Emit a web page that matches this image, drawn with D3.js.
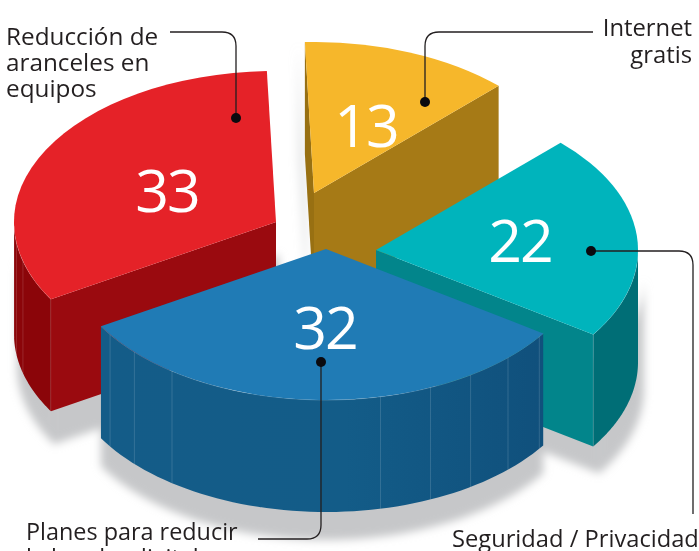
<!DOCTYPE html>
<html lang="en">
<head>
  <meta charset="UTF-8">
  <title>Chart</title>
  <style>
    html, body { margin: 0; padding: 0; background: #fff; overflow: hidden; }
    svg { display: block; }
  </style>
</head>
<body>

  <script src="https://d3js.org/d3.v7.min.js"></script>
  <script>
    const width = 699;
    const height = 551;

    const categories = ['Internet gratis', 'Seguridad / Privacidad', 'Planes para reducir la brecha digital', 'Reducción de aranceles en equipos'];
    const values = [13, 22, 32, 33];

    // colours per slice: top face, cut wall, rim wall
    const topColors = ['#f6b72b', '#00b4bc', '#207bb5', '#e52228'];
    const cutColors = ['#a67a16', '#02858b', '#125c88', '#9a0a0f'];
    const rimColors = ['#a67a16', '#006e76', 'url(#blueRim)', '#8b0509'];

    // where each slice's tip sits once pulled apart
    const tips = [[314, 193], [376, 250], [326, 249], [276, 222]];
    const shadowShift = [[-7, 2], [6, 27], [0, 28], [3, 33]];

    const rx = 262;
    const ry = 151;
    const depth = 112;
    const startAngle = -2 * Math.PI / 180;

    const rad = d => d * Math.PI / 180;

    const pie = d3.pie()
      .sort(null)
      .startAngle(startAngle)
      .endAngle(startAngle + 2 * Math.PI);
    const slices = pie(values);

    const arc = d3.arc().innerRadius(0).outerRadius(rx);
    const line = d3.line();

    const svg = d3.select('body')
      .append('svg')
      .attr('width', width)
      .attr('height', height)
      .style('font-family', '"Open Sans", sans-serif');

    const defs = svg.append('defs');
    defs.append('filter')
      .attr('id', 'blur')
      .attr('x', '-20%').attr('y', '-20%').attr('width', '140%').attr('height', '140%')
      .append('feGaussianBlur')
      .attr('stdDeviation', 4.5);

    const grad = defs.append('linearGradient')
      .attr('id', 'blueRim')
      .attr('gradientUnits', 'userSpaceOnUse')
      .attr('x1', 102).attr('x2', 545).attr('y1', 0).attr('y2', 0);
    grad.append('stop').attr('offset', '0%').attr('stop-color', '#145c88');
    grad.append('stop').attr('offset', '55%').attr('stop-color', '#135c88');
    grad.append('stop').attr('offset', '100%').attr('stop-color', '#10507c');

    // point on a slice's rim, angle clockwise from the top
    const rimPoint = (i, a, drop = 0) => [
      tips[i][0] + rx * Math.sin(a),
      tips[i][1] - ry * Math.cos(a) + drop,
    ];

    const rimSteps = (a0, a1) => d3.range(0, 61).map(k => a0 + (a1 - a0) * k / 60);

    const rimWall = (i, a0, a1) => {
      const angles = rimSteps(a0, a1);
      return line([
        ...angles.map(a => rimPoint(i, a)),
        ...angles.slice().reverse().map(a => rimPoint(i, a, depth)),
      ]) + 'Z';
    };

    const cutWall = (i, a) => line([
      tips[i],
      rimPoint(i, a),
      rimPoint(i, a, depth),
      [tips[i][0], tips[i][1] + depth],
    ]) + 'Z';

    const visibleRim = d => [Math.max(d.startAngle, Math.PI / 2), Math.min(d.endAngle, 3 * Math.PI / 2)];

    // ground shadows, under everything
    const shadows = svg.append('g').attr('filter', 'url(#blur)');
    slices.forEach((d, i) => {
      const [a0, a1] = visibleRim(d);
      const g = shadows.append('g')
        .attr('transform', `translate(${shadowShift[i]})`)
        .attr('fill', '#c6c7c9')
        .attr('opacity', i === 0 ? 0.45 : 1);
      if (i === 0) {
        g.append('path').attr('d', cutWall(i, d.startAngle));
      } else {
        g.append('path').attr('d', rimWall(i, a0, a1));
        if (Math.sin(d.startAngle) < 0) g.append('path').attr('d', cutWall(i, d.startAngle));
        if (Math.sin(d.endAngle) > 0) g.append('path').attr('d', cutWall(i, d.endAngle));
      }
    });

    // drawn back to front: yellow, red, teal, blue
    const order = [0, 3, 1, 2];
    order.forEach(i => {
      const d = slices[i];
      const g = svg.append('g');

      if (Math.sin(d.startAngle) < 0) {
        g.append('path')
          .attr('d', cutWall(i, d.startAngle))
          .attr('fill', i === 0 ? '#987012' : cutColors[i]);
      }
      if (Math.sin(d.endAngle) > 0) {
        g.append('path')
          .attr('d', cutWall(i, d.endAngle))
          .attr('fill', cutColors[i]);
      }

      const [a0, a1] = visibleRim(d);
      if (a1 > a0) {
        g.append('path')
          .attr('d', rimWall(i, a0, a1))
          .attr('fill', rimColors[i]);
        g.append('path')
          .attr('d', line(rimSteps(a0, a1).map(a => rimPoint(i, a))))
          .attr('fill', 'none')
          .attr('stroke', '#fff')
          .attr('stroke-opacity', 0.35)
          .attr('stroke-width', 0.6);
      }

      g.append('path')
        .attr('d', arc(d))
        .attr('transform', `translate(${tips[i]}) scale(1, ${ry / rx})`)
        .attr('fill', topColors[i]);
    });

    // thin seams on the rim walls, as degrees round the slice
    const seamAngles = [[2, [235.5, 227, 216, 168, 156.5, 146.5, 136, 125.5]], [3, [268.5, 262, 255, 239.3]], [1, [124]]];
    seamAngles.forEach(([i, angles]) => {
      svg.append('g')
        .selectAll('path')
        .data(angles)
        .join('path')
        .attr('d', a => line([rimPoint(i, rad(a)), rimPoint(i, rad(a), depth)]))
        .attr('stroke', '#fff')
        .attr('stroke-opacity', 0.18)
        .attr('stroke-width', 0.8);
    });

    // numbers
    const numberPos = [[367, 147], [521, 262], [326, 349], [168, 212]];
    svg.append('g')
      .selectAll('text')
      .data(values)
      .join('text')
      .attr('x', (d, i) => numberPos[i][0])
      .attr('y', (d, i) => numberPos[i][1])
      .attr('text-anchor', 'middle')
      .attr('fill', '#fff')
      .attr('font-size', 59)
      .attr('letter-spacing', -2)
      .attr('dx', -1)
      .text(d => d);

    // leaders
    const leaders = [
      'M593,32H439Q425,32 425,46V102',
      'M591,251H679Q693,251 693,265V514',
      'M258,539H307Q321,539 321,525V362',
      'M170,32H222Q236,32 236,46V118',
    ];
    const dots = [[425, 102], [591, 251], [321, 362], [236, 118]];

    svg.append('g')
      .selectAll('path')
      .data(leaders)
      .join('path')
      .attr('d', d => d)
      .attr('fill', 'none')
      .attr('stroke', '#231f20')
      .attr('stroke-width', 1.3);

    svg.append('g')
      .selectAll('circle')
      .data(dots)
      .join('circle')
      .attr('cx', d => d[0])
      .attr('cy', d => d[1])
      .attr('r', 5)
      .attr('fill', '#0a0a0f');

    // labels
    const labels = [
      { lines: ['Internet', 'gratis'], x: 692, y: [36, 63], anchor: 'end', size: 23.8 },
      { lines: ['Seguridad / Privacidad'], x: 452, y: [547], anchor: 'start', size: 23.7 },
      { lines: ['Planes para reducir', 'la brecha digital'], x: 26, y: [540, 566], anchor: 'start', size: 23.4 },
      { lines: ['Reducción de', 'aranceles en', 'equipos'], x: 6, y: [45, 71, 97], anchor: 'start', size: 24.3 },
    ];

    labels.forEach(l => {
      svg.append('g')
        .selectAll('text')
        .data(l.lines)
        .join('text')
        .attr('x', l.x)
        .attr('y', (d, i) => l.y[i])
        .attr('text-anchor', l.anchor)
        .attr('fill', '#231f20')
        .attr('font-size', l.size)
        .text(d => d);
    });
  </script>

</body>
</html>
